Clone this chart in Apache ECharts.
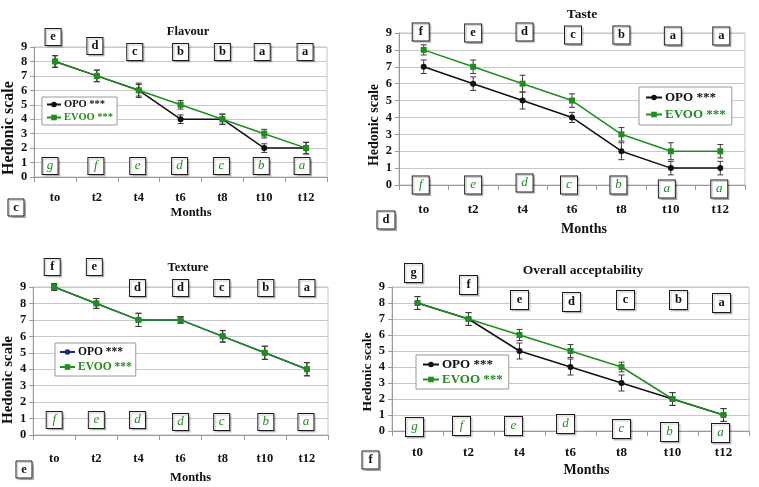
<!DOCTYPE html>
<html>
<head>
<meta charset="utf-8">
<script src="https://cdn.jsdelivr.net/npm/echarts@6/dist/echarts.min.js"></script>
<style>html,body{margin:0;padding:0;background:#fff}#c{width:759px;height:487px}</style>
</head>
<body>
<div id="c"></div>
<script>
// ---------------- DATA ----------------
const monthsA = ['to', 't2', 't4', 't6', 't8', 't10', 't12'];
const monthsB = ['t0', 't2', 't4', 't6', 't8', 't10', 't12'];
const yTicks = [0, 1, 2, 3, 4, 5, 6, 7, 8, 9];

const flavourOPO = [8, 7, 6, 4, 4, 2, 2];
const flavourOPOErr = [0.4, 0.4, 0.5, 0.3, 0.35, 0.3, 0.4];
const flavourEVOO = [8, 7, 6, 5, 4, 3, 2];
const flavourEVOOErr = [0.4, 0.4, 0.4, 0.3, 0.35, 0.3, 0.4];
const flavourTopLetters = ['e', 'd', 'c', 'b', 'b', 'a', 'a'];
const flavourBottomLetters = ['g', 'f', 'e', 'd', 'c', 'b', 'a'];

const tasteOPO = [7, 6, 5, 4, 2, 1, 1];
const tasteOPOErr = [0.4, 0.4, 0.5, 0.3, 0.5, 0.4, 0.4];
const tasteEVOO = [8, 7, 6, 5, 3, 2, 2];
const tasteEVOOErr = [0.3, 0.4, 0.5, 0.4, 0.4, 0.5, 0.4];
const tasteTopLetters = ['f', 'e', 'd', 'c', 'b', 'a', 'a'];
const tasteBottomLetters = ['f', 'e', 'd', 'c', 'b', 'a', 'a'];

const textureOPO = [9, 8, 7, 7, 6, 5, 4];
const textureOPOErr = [0.2, 0.3, 0.4, 0.2, 0.35, 0.4, 0.4];
const textureEVOO = [9, 8, 7, 7, 6, 5, 4];
const textureEVOOErr = [0.2, 0.3, 0.4, 0.2, 0.35, 0.4, 0.4];
const textureTopLetters = ['f', 'e', 'd', 'd', 'c', 'b', 'a'];
const textureBottomLetters = ['f', 'e', 'd', 'd', 'c', 'b', 'a'];

const overallOPO = [8, 7, 5, 4, 3, 2, 1];
const overallOPOErr = [0.4, 0.4, 0.5, 0.5, 0.5, 0.4, 0.4];
const overallEVOO = [8, 7, 6, 5, 4, 2, 1];
const overallEVOOErr = [0.4, 0.4, 0.35, 0.4, 0.3, 0.4, 0.4];
const overallTopLetters = ['g', 'f', 'e', 'd', 'c', 'b', 'a'];
const overallBottomLetters = ['g', 'f', 'e', 'd', 'c', 'b', 'a'];

const seriesNames = ['OPO ***', 'EVOO ***'];
const panelTitles = ['Flavour', 'Taste', 'Texture', 'Overall acceptability'];
const panelTags = ['c', 'd', 'e', 'f'];
const xName = 'Months';
const yName = 'Hedonic scale';

// ---------------- LAYOUT / STYLE ----------------
const FONT = '"Liberation Serif", "DejaVu Serif", serif';
const GREEN = '#1f8d1f';
const GREEN_TXT = '#238a23';
const BLACK = '#111';

const panels = [
  { cats: monthsA, opo: flavourOPO, opoErr: flavourOPOErr, evoo: flavourEVOO, evooErr: flavourEVOOErr,
    top: flavourTopLetters, bottom: flavourBottomLetters,
    topY: [9.69, 9.07, 8.66, 8.66, 8.66, 8.66, 8.66], botY: [0.76, 0.76, 0.76, 0.76, 0.76, 0.76, 0.76],
    topDX: [-2, -2, -4, 0, 0, -2, -1], botDX: [-5, -1, -1, -1, -1, -3, -4],
    grid: { left: 32, top: 47, width: 295, height: 130 }, box: 17,
    title: { x: 188, y: 32, size: 12.5 }, tag: { x: 8, y: 199, w: 16, h: 17 },
    xLab: { margin: 14, size: 12.5 }, xNm: { gap: 29, size: 12.5, shift: 21 },
    yNm: { gap: 12, size: 16, shift: 32 },
    legend: { left: 42, top: 97, size: 10.5, gap: 2, pad: [2, 4], w: 14 }, opoColor: BLACK },
  { cats: monthsA, opo: tasteOPO, opoErr: tasteOPOErr, evoo: tasteEVOO, evooErr: tasteEVOOErr,
    top: tasteTopLetters, bottom: tasteBottomLetters,
    topY: [9.06, 9.0, 9.06, 8.88, 8.88, 8.82, 8.82], botY: [0, 0, 0.12, 0, 0, -0.24, -0.24],
    topDX: [-3, 0, 2, 1, 0, 2, 1], botDX: [-3, 0, 2, -3, -3, -4, -1],
    grid: { left: 399, top: 33, width: 346, height: 152 }, box: 18,
    title: { x: 582, y: 15, size: 13.5 }, tag: { x: 377, y: 211, w: 18, h: 18 },
    xLab: { margin: 18, size: 13 }, xNm: { gap: 37, size: 14, shift: 24 },
    yNm: { gap: 18, size: 14, shift: 32 },
    legend: { left: 639, top: 87, size: 13, gap: 4, pad: [4, 6], w: 16 }, opoColor: BLACK },
  { cats: monthsA, opo: textureOPO, opoErr: textureOPOErr, evoo: textureEVOO, evooErr: textureEVOOErr,
    top: textureTopLetters, bottom: textureBottomLetters,
    topY: [10.22, 10.22, 8.94, 8.94, 8.94, 8.94, 8.94], botY: [0.91, 0.91, 0.91, 0.79, 0.79, 0.79, 0.79],
    topDX: [-2, -2, -1, 0, -1, 1, 0], botDX: [0, 0, -1, 0, -1, 1, -1],
    grid: { left: 32, top: 287, width: 296, height: 148 }, box: 17,
    title: { x: 188, y: 268, size: 12.5 }, tag: { x: 16, y: 461, w: 16, h: 17 },
    xLab: { margin: 17, size: 12.5 }, xNm: { gap: 36, size: 12.5, shift: 20 },
    yNm: { gap: 12, size: 15, shift: 38 },
    legend: { left: 55, top: 343, size: 11.5, gap: 3, pad: [3, 4], w: 15 }, opoColor: '#1c2a7c' },
  { cats: monthsB, opo: overallOPO, opoErr: overallOPOErr, evoo: overallEVOO, evooErr: overallEVOOErr,
    top: overallTopLetters, bottom: overallBottomLetters,
    topY: [9.875, 9.125, 8.19, 8.06, 8.19, 8.19, 8.0], botY: [0.25, 0.31, 0.31, 0.44, 0.125, -0.06, -0.125],
    topDX: [-4, 0, 0, 1, 4, 6, -2], botDX: [-3, -7, -6, -5, 0, -3, -3],
    grid: { left: 392, top: 287, width: 357, height: 144 }, box: 19,
    title: { x: 583, y: 271, size: 13.5 }, tag: { x: 362, y: 451, w: 17, h: 18 },
    xLab: { margin: 15, size: 13 }, xNm: { gap: 32, size: 14, shift: 32 },
    yNm: { gap: 17, size: 13.5, shift: 26 },
    legend: { left: 416, top: 355, size: 13, gap: 2, pad: [3, 6], w: 16 }, opoColor: BLACK }
];

const chart = echarts.init(document.getElementById('c'), null, { renderer: 'canvas' });

const grids = [], xAxes = [], yAxes = [], series = [], legends = [], graphics = [];

function errSeries(i, vals, errs, z) {
  return {
    type: 'custom', xAxisIndex: i, yAxisIndex: i, z: z, silent: true, clip: false,
    data: vals.map((v, k) => [k, v, errs[k]]),
    renderItem(params, api) {
      const k = api.value(0), v = api.value(1), e = api.value(2);
      const hi = api.coord([k, v + e]);
      const lo = api.coord([k, v - e]);
      const w = 3;
      const st = { stroke: '#3a3a3a', lineWidth: 1 };
      return { type: 'group', children: [
        { type: 'line', shape: { x1: hi[0], y1: hi[1], x2: lo[0], y2: lo[1] }, style: st },
        { type: 'line', shape: { x1: hi[0] - w, y1: hi[1], x2: hi[0] + w, y2: hi[1] }, style: st },
        { type: 'line', shape: { x1: lo[0] - w, y1: lo[1], x2: lo[0] + w, y2: lo[1] }, style: st }
      ] };
    }
  };
}

function letterSeries(i, letters, ys, dxs, size, top) {
  return {
    type: 'scatter', xAxisIndex: i, yAxisIndex: i, z: 6, clip: false, silent: true,
    symbol: 'rect', symbolSize: [size - 1, size],
    itemStyle: { color: '#fff', opacity: 1, borderColor: '#1a1a1a', borderWidth: 1,
      shadowColor: 'rgba(0,0,0,0.22)', shadowOffsetX: 1.5, shadowOffsetY: 1.5, shadowBlur: 1 },
    label: { show: true, position: 'inside', formatter: '{b}',
      fontFamily: FONT, fontSize: top ? 12.5 : 13,
      fontWeight: top ? 'bold' : 'normal', fontStyle: top ? 'normal' : 'italic',
      color: top ? BLACK : GREEN_TXT },
    data: letters.map((L, k) => ({ name: L, value: [k, ys[k]], symbolOffset: [dxs[k], 0] }))
  };
}

panels.forEach((p, i) => {
  grids.push(Object.assign({ show: true, borderColor: '#c4c4c4', borderWidth: 1, backgroundColor: 'transparent' }, p.grid));
  xAxes.push({
    type: 'category', gridIndex: i, data: p.cats, boundaryGap: true,
    axisLine: { lineStyle: { color: '#9a9a9a' } },
    axisTick: { show: true, length: 5, lineStyle: { color: '#9a9a9a' } },
    axisLabel: { margin: p.xLab.margin, fontFamily: FONT, fontWeight: 'bold', fontSize: p.xLab.size, color: BLACK },
    name: xName, nameLocation: 'middle', nameGap: p.xNm.gap,
    nameTextStyle: { fontFamily: FONT, fontWeight: 'bold', fontSize: p.xNm.size, color: BLACK, padding: [0, 0, 0, p.xNm.shift] },
    splitLine: { show: false }
  });
  yAxes.push({
    type: 'value', gridIndex: i, min: yTicks[0], max: yTicks[yTicks.length - 1], interval: 1,
    axisLine: { show: true, lineStyle: { color: '#9a9a9a' } },
    axisTick: { show: true, length: 4, lineStyle: { color: '#9a9a9a' } },
    axisLabel: { margin: 7, fontFamily: FONT, fontWeight: 'bold', fontSize: 12.5, color: BLACK },
    splitLine: { show: true, lineStyle: { color: '#c8c8c8', width: 1 } },
    name: yName, nameLocation: 'middle', nameGap: p.yNm.gap,
    nameTextStyle: { fontFamily: FONT, fontWeight: 'bold', fontSize: p.yNm.size, color: BLACK, padding: [0, p.yNm.shift, 0, 0] }
  });

  series.push(errSeries(i, p.opo, p.opoErr, 2));
  series.push(errSeries(i, p.evoo, p.evooErr, 2));
  series.push({
    type: 'line', name: seriesNames[0], xAxisIndex: i, yAxisIndex: i, z: 3, data: p.opo,
    symbol: 'circle', symbolSize: 6, showSymbol: true,
    lineStyle: { color: p.opoColor, width: 1.5 }, itemStyle: { color: p.opoColor }
  });
  series.push({
    type: 'line', name: seriesNames[1], xAxisIndex: i, yAxisIndex: i, z: 4, data: p.evoo,
    symbol: 'rect', symbolSize: 6, showSymbol: true,
    lineStyle: { color: GREEN, width: 1.5 }, itemStyle: { color: GREEN }
  });
  series.push(letterSeries(i, p.top, p.topY, p.topDX, p.box, true));
  series.push(letterSeries(i, p.bottom, p.botY, p.botDX, p.box, false));

  legends.push({
    orient: 'vertical', left: p.legend.left, top: p.legend.top,
    padding: p.legend.pad, itemGap: p.legend.gap, itemWidth: p.legend.w, itemHeight: 7,
    backgroundColor: '#fff', borderColor: '#999', borderWidth: 1, selectedMode: false,
    textStyle: { fontFamily: FONT, fontWeight: 'bold', fontSize: p.legend.size, color: BLACK, padding: [0, 0, 0, -2] },
    data: [
      { name: seriesNames[0], itemStyle: { color: p.opoColor }, lineStyle: { color: p.opoColor }, textStyle: { color: BLACK } },
      { name: seriesNames[1], itemStyle: { color: GREEN }, lineStyle: { color: GREEN }, textStyle: { color: GREEN_TXT } }
    ]
  });

  graphics.push({
    type: 'text', x: p.title.x, y: p.title.y, z: 10,
    style: { text: panelTitles[i], fill: BLACK, font: 'bold ' + p.title.size + 'px ' + FONT,
      align: 'center', verticalAlign: 'middle', textAlign: 'center', textVerticalAlign: 'middle' }
  });
  graphics.push({
    type: 'group', x: p.tag.x, y: p.tag.y, z: 10, children: [
      { type: 'rect', shape: { x: 0, y: 0, width: p.tag.w, height: p.tag.h },
        style: { fill: '#fff', stroke: '#1a1a1a', lineWidth: 1, shadowColor: 'rgba(0,0,0,0.22)', shadowOffsetX: 1.5, shadowOffsetY: 1.5, shadowBlur: 1 } },
      { type: 'text', x: p.tag.w / 2, y: p.tag.h / 2,
        style: { text: panelTags[i], fill: BLACK, font: 'bold 12.5px ' + FONT,
          align: 'center', verticalAlign: 'middle', textAlign: 'center', textVerticalAlign: 'middle' } }
    ]
  });
});

chart.setOption({
  animation: false,
  backgroundColor: '#fff',
  grid: grids, xAxis: xAxes, yAxis: yAxes, series: series, legend: legends, graphic: graphics
});
</script>
</body>
</html>
